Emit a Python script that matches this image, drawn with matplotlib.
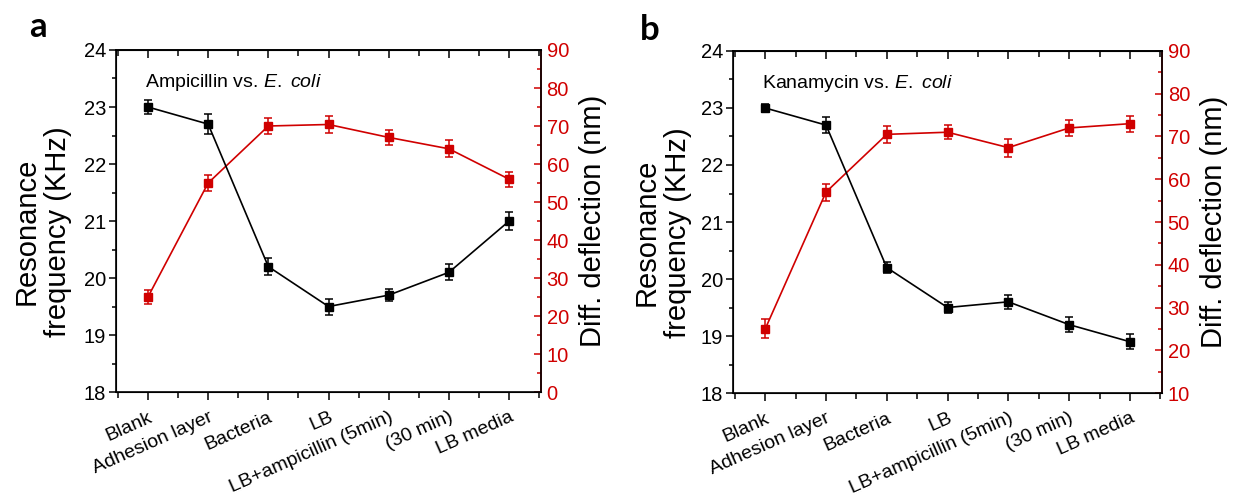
import numpy as np
import matplotlib.pyplot as plt
from matplotlib.ticker import MultipleLocator

plt.rcParams['font.family'] = ['Liberation Sans', 'DejaVu Sans']
plt.rcParams['mathtext.fontset'] = 'custom'
plt.rcParams['mathtext.rm'] = 'Liberation Sans'
plt.rcParams['mathtext.it'] = 'Liberation Sans:italic'

RED = '#d00000'

steps = ['Blank', 'Adhesion layer', 'Bacteria', 'LB',
         'LB+ampicillin (5min)', '(30 min)', 'LB media']

# panel a: ampicillin
amp_freq = [23.0, 22.7, 20.2, 19.5, 19.7, 20.1, 21.0]
amp_freq_err = [0.12, 0.17, 0.15, 0.14, 0.11, 0.14, 0.15]
amp_defl = [25, 55, 70, 70.4, 67, 64, 56]
amp_defl_err = [1.9, 2.0, 2.1, 2.2, 2.0, 2.2, 2.0]

# panel b: kanamycin
kan_freq = [23.0, 22.7, 20.2, 19.5, 19.6, 19.2, 18.9]
kan_freq_err = [0.07, 0.14, 0.10, 0.10, 0.12, 0.13, 0.13]
kan_defl = [25, 57, 70.5, 71, 67.4, 72, 73]
kan_defl_err = [2.2, 2.0, 2.0, 1.7, 2.1, 1.8, 1.9]


def draw_panel(fig, rect, title, freq, freq_err, defl, defl_err, rlim,
               left_lab_x, right_lab_x):
    ax = fig.add_axes(rect)
    ax2 = ax.twinx()
    ax.set_zorder(ax2.get_zorder() + 1)
    ax.patch.set_visible(False)

    x = np.arange(len(steps))
    ax.errorbar(x, freq, yerr=freq_err, color='black', marker='s', ms=6,
                lw=1.2, capsize=3, elinewidth=1.1, capthick=1.1)
    ax2.errorbar(x, defl, yerr=defl_err, color=RED, marker='s', ms=6,
                 lw=1.2, capsize=3, elinewidth=1.1, capthick=1.1)

    ax.set_xlim(-0.53, 6.53)
    ax.set_ylim(18, 24)
    ax2.set_ylim(*rlim)

    ax.set_xticks(x)
    ax.set_xticklabels(steps, rotation=24, ha='right', rotation_mode='anchor')
    ax.xaxis.set_minor_locator(MultipleLocator(0.5))
    ax.yaxis.set_major_locator(MultipleLocator(1))
    ax.yaxis.set_minor_locator(MultipleLocator(0.5))
    ax2.yaxis.set_major_locator(MultipleLocator(10))
    ax2.yaxis.set_minor_locator(MultipleLocator(5))

    # top ticks point inwards, bottom ticks outwards
    top = ax.secondary_xaxis('top')
    top.set_xticks(x)
    top.xaxis.set_minor_locator(MultipleLocator(0.5))
    top.tick_params(axis='x', which='both', direction='in', labeltop=False, width=1.1)
    top.tick_params(axis='x', which='major', length=6)
    top.tick_params(axis='x', which='minor', length=4)
    top.spines['top'].set_linewidth(1.2)

    ax.tick_params(axis='y', which='both', direction='out', left=True, right=False,
                   labelsize=14.5, width=1.1, pad=2)
    ax.tick_params(axis='y', which='major', length=5)
    ax.tick_params(axis='y', which='minor', length=3)
    ax.tick_params(axis='x', which='both', direction='out', top=False, bottom=True,
                   labelsize=14, width=1.1)
    ax.tick_params(axis='x', which='major', length=6, pad=6)
    ax.tick_params(axis='x', which='minor', length=4)
    ax2.tick_params(axis='y', which='both', direction='in', colors=RED,
                    labelsize=14.5, width=1.1, pad=4)
    ax2.tick_params(axis='y', which='major', length=5)
    ax2.tick_params(axis='y', which='minor', length=3)

    for s in ax.spines.values():
        s.set_linewidth(1.2)
    ax2.spines['right'].set_color(RED)
    ax2.spines['right'].set_linewidth(1.2)

    ax.set_ylabel('Resonance\nfrequency (KHz)', fontsize=21,
                  linespacing=1.15, multialignment='center')
    ax.yaxis.set_label_coords(left_lab_x, 0.47)
    ax2.set_ylabel('Diff. deflection (nm)', fontsize=21)
    ax2.yaxis.set_label_coords(right_lab_x, 0.5)

    ax.text(0.068, 0.905, title, transform=ax.transAxes, fontsize=14,
            va='center', ha='left')
    return ax


fig = plt.figure(figsize=(12.33, 4.95), dpi=100)

ax_a = draw_panel(fig, [0.0941, 0.208, 0.3447, 0.691],
                  'Ampicillin vs. $\\it{E.}$ $\\it{coli}$',
                  amp_freq, amp_freq_err, amp_defl, amp_defl_err, (0, 90),
                  -0.103, 1.09)
ax_b = draw_panel(fig, [0.5945, 0.206, 0.348, 0.691],
                  'Kanamycin vs. $\\it{E.}$ $\\it{coli}$',
                  kan_freq, kan_freq_err, kan_defl, kan_defl_err, (10, 90),
                  -0.096, 1.088)

fig.text(0.031, 0.945, 'a', fontsize=25, fontweight='bold', family='Lato',
         ha='center', va='center')
fig.text(0.527, 0.94, 'b', fontsize=25, fontweight='bold', family='Lato',
         ha='center', va='center')

fig.savefig('out.png', dpi=100)
